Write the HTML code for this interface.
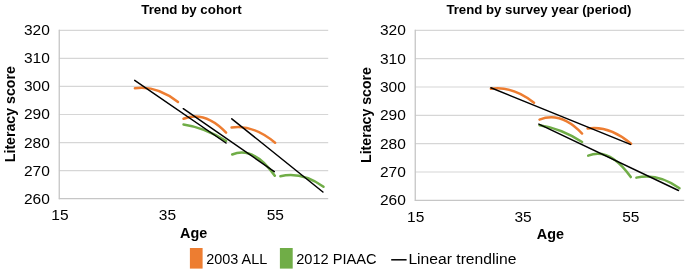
<!DOCTYPE html>
<html lang="en">
<head>
<meta charset="utf-8">
<title>Literacy score trends</title>
<style>
html,body{margin:0;padding:0;background:#fff;}
body{width:685px;height:269px;overflow:hidden;}
svg{display:block;}
</style>
</head>
<body>
<svg width="685" height="269" viewBox="0 0 685 269" font-family='"Liberation Sans", Arial, sans-serif' fill="#000">
<rect width="685" height="269" fill="#fff"/>
<g transform="translate(0,0)">
<line x1="58.9" y1="30.30" x2="328.2" y2="30.30" stroke="#D6D6D6" stroke-width="1.15"/>
<line x1="58.9" y1="58.37" x2="328.2" y2="58.37" stroke="#D6D6D6" stroke-width="1.15"/>
<line x1="58.9" y1="86.43" x2="328.2" y2="86.43" stroke="#D6D6D6" stroke-width="1.15"/>
<line x1="58.9" y1="114.50" x2="328.2" y2="114.50" stroke="#D6D6D6" stroke-width="1.15"/>
<line x1="58.9" y1="142.57" x2="328.2" y2="142.57" stroke="#D6D6D6" stroke-width="1.15"/>
<line x1="58.9" y1="170.63" x2="328.2" y2="170.63" stroke="#D6D6D6" stroke-width="1.15"/>
<line x1="58.9" y1="198.70" x2="328.2" y2="198.70" stroke="#C6C6C6" stroke-width="1.3"/>
<line x1="59.25" y1="29.75" x2="59.25" y2="199.30" stroke="#C6C6C6" stroke-width="1.3"/>
<text x="49.8" y="35.2" text-anchor="end" font-size="15.5">320</text>
<text x="49.8" y="63.3" text-anchor="end" font-size="15.5">310</text>
<text x="49.8" y="91.3" text-anchor="end" font-size="15.5">300</text>
<text x="49.8" y="119.4" text-anchor="end" font-size="15.5">290</text>
<text x="49.8" y="147.5" text-anchor="end" font-size="15.5">280</text>
<text x="49.8" y="175.5" text-anchor="end" font-size="15.5">270</text>
<text x="49.8" y="203.6" text-anchor="end" font-size="15.5">260</text>
<text x="59.9" y="219.9" text-anchor="middle" font-size="15.5">15</text>
<text x="167.4" y="219.9" text-anchor="middle" font-size="15.5">35</text>
<text x="275.3" y="219.9" text-anchor="middle" font-size="15.5">55</text>
<text transform="translate(14.6,114.2) rotate(-90)" text-anchor="middle" font-size="14.5" font-weight="bold" textLength="96" lengthAdjust="spacingAndGlyphs">Literacy score</text>
<text x="180.0" y="238" font-size="14.5" font-weight="bold" textLength="27.2" lengthAdjust="spacingAndGlyphs">Age</text>
<text x="191.5" y="14.1" text-anchor="middle" font-size="13.5" font-weight="bold" textLength="100.5" lengthAdjust="spacingAndGlyphs">Trend by cohort</text>
<path d="M134.90,88.28 Q156.45,85.12 178.00,102.01" fill="none" stroke="#ED7D31" stroke-width="2.5" stroke-linecap="round"/>
<path d="M183.50,118.75 Q204.80,110.24 226.10,132.56" fill="none" stroke="#ED7D31" stroke-width="2.5" stroke-linecap="round"/>
<path d="M231.60,127.54 Q253.35,124.34 275.10,142.73" fill="none" stroke="#ED7D31" stroke-width="2.5" stroke-linecap="round"/>
<path d="M183.50,124.40 Q204.80,127.43 226.10,141.00" fill="none" stroke="#70AD47" stroke-width="2.5" stroke-linecap="round"/>
<path d="M232.20,154.48 Q253.50,145.87 274.80,175.69" fill="none" stroke="#70AD47" stroke-width="2.5" stroke-linecap="round"/>
<path d="M280.40,176.25 Q301.95,171.36 323.50,186.80" fill="none" stroke="#70AD47" stroke-width="2.5" stroke-linecap="round"/>
<line x1="134.7" y1="80.3" x2="226.0" y2="143.0" stroke="#000" stroke-width="1.5" stroke-linecap="round"/>
<line x1="183.3" y1="108.7" x2="274.3" y2="171.6" stroke="#000" stroke-width="1.5" stroke-linecap="round"/>
<line x1="231.8" y1="118.8" x2="322.9" y2="192.0" stroke="#000" stroke-width="1.5" stroke-linecap="round"/>
</g>
<g transform="translate(356,0)">
<line x1="58.9" y1="30.30" x2="328.2" y2="30.30" stroke="#D6D6D6" stroke-width="1.15"/>
<line x1="58.9" y1="58.63" x2="328.2" y2="58.63" stroke="#D6D6D6" stroke-width="1.15"/>
<line x1="58.9" y1="86.97" x2="328.2" y2="86.97" stroke="#D6D6D6" stroke-width="1.15"/>
<line x1="58.9" y1="115.30" x2="328.2" y2="115.30" stroke="#D6D6D6" stroke-width="1.15"/>
<line x1="58.9" y1="143.63" x2="328.2" y2="143.63" stroke="#D6D6D6" stroke-width="1.15"/>
<line x1="58.9" y1="171.97" x2="328.2" y2="171.97" stroke="#D6D6D6" stroke-width="1.15"/>
<line x1="58.9" y1="200.30" x2="328.2" y2="200.30" stroke="#C6C6C6" stroke-width="1.3"/>
<line x1="59.25" y1="29.75" x2="59.25" y2="200.90" stroke="#C6C6C6" stroke-width="1.3"/>
<text x="49.8" y="35.2" text-anchor="end" font-size="15.5">320</text>
<text x="49.8" y="63.5" text-anchor="end" font-size="15.5">310</text>
<text x="49.8" y="91.9" text-anchor="end" font-size="15.5">300</text>
<text x="49.8" y="120.2" text-anchor="end" font-size="15.5">290</text>
<text x="49.8" y="148.5" text-anchor="end" font-size="15.5">280</text>
<text x="49.8" y="176.9" text-anchor="end" font-size="15.5">270</text>
<text x="49.8" y="205.2" text-anchor="end" font-size="15.5">260</text>
<text x="59.7" y="221.5" text-anchor="middle" font-size="15.5">15</text>
<text x="167.1" y="221.5" text-anchor="middle" font-size="15.5">35</text>
<text x="274.8" y="221.5" text-anchor="middle" font-size="15.5">55</text>
<text transform="translate(14.6,115.0) rotate(-90)" text-anchor="middle" font-size="14.5" font-weight="bold" textLength="96" lengthAdjust="spacingAndGlyphs">Literacy score</text>
<text x="180.8" y="238.5" font-size="14.5" font-weight="bold" textLength="27.2" lengthAdjust="spacingAndGlyphs">Age</text>
<text x="182.9" y="14.1" text-anchor="middle" font-size="13.5" font-weight="bold" textLength="185" lengthAdjust="spacingAndGlyphs">Trend by survey year (period)</text>
<path d="M134.90,88.83 Q156.45,85.65 178.00,102.69" fill="none" stroke="#ED7D31" stroke-width="2.5" stroke-linecap="round"/>
<path d="M183.50,119.59 Q204.80,111.00 226.10,133.53" fill="none" stroke="#ED7D31" stroke-width="2.5" stroke-linecap="round"/>
<path d="M231.60,128.47 Q253.35,125.24 275.10,143.80" fill="none" stroke="#ED7D31" stroke-width="2.5" stroke-linecap="round"/>
<path d="M183.50,125.30 Q204.80,128.35 226.10,142.05" fill="none" stroke="#70AD47" stroke-width="2.5" stroke-linecap="round"/>
<path d="M232.20,155.66 Q253.50,146.96 274.80,177.07" fill="none" stroke="#70AD47" stroke-width="2.5" stroke-linecap="round"/>
<path d="M280.40,177.64 Q301.95,172.70 323.50,188.28" fill="none" stroke="#70AD47" stroke-width="2.5" stroke-linecap="round"/>
<line x1="134.9" y1="87.8" x2="274.4" y2="144.4" stroke="#000" stroke-width="1.5" stroke-linecap="round"/>
<line x1="182.9" y1="124.1" x2="322.5" y2="190.5" stroke="#000" stroke-width="1.5" stroke-linecap="round"/>
</g>
<rect x="189.9" y="248" width="12.7" height="20.6" fill="#ED7D31"/>
<text x="206.2" y="263.5" font-size="15.5" textLength="61" lengthAdjust="spacingAndGlyphs">2003 ALL</text>
<rect x="279.9" y="248" width="12.8" height="20.6" fill="#70AD47"/>
<text x="296.2" y="263.5" font-size="15.5" textLength="80.5" lengthAdjust="spacingAndGlyphs">2012 PIAAC</text>
<line x1="391.2" y1="259.8" x2="406.6" y2="259.8" stroke="#000" stroke-width="1.5"/>
<text x="408.4" y="263.5" font-size="15.5" textLength="108" lengthAdjust="spacingAndGlyphs">Linear trendline</text>
</svg>
</body>
</html>
